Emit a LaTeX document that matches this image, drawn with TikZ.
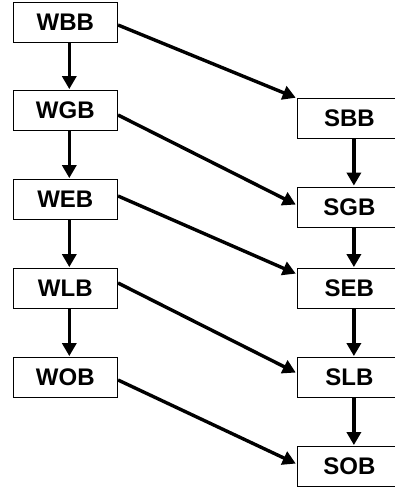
\documentclass[tikz,border=0pt]{standalone}
\usepackage{fontspec}
\setmainfont{Liberation Sans}
\usetikzlibrary{calc}
\usetikzlibrary{arrows.meta}

\tikzset{
    kotak/.style={draw, line width=0.8pt, minimum width=104.7pt, minimum height=40pt,
        inner sep=0pt, font=\fontsize{24}{27}\selectfont\bfseries},
    panah/.style={line width=3.4pt, -{Triangle[length=13pt,width=14pt]}, shorten >=1pt}
}

\begin{document}
\begin{tikzpicture}[x=1pt,y=-1pt]
    \useasboundingbox (0,0) rectangle (395,488);
    \clip (0,0) rectangle (395,488);
    % kotak kolom kiri
    \node[kotak] (WBB) at (65.3,22)    {WBB};
    \node[kotak] (WGB) at (65.3,110.5) {WGB};
    \node[kotak] (WEB) at (65.3,199.5) {WEB};
    \node[kotak] (WLB) at (65.3,288.5) {WLB};
    \node[kotak] (WOB) at (65.3,377.5) {WOB};
    % kotak kolom kanan
    \node[kotak] (SBB) at (349.4,118.5) {SBB};
    \node[kotak] (SGB) at (349.4,207)   {SGB};
    \node[kotak] (SEB) at (349.4,288.5) {SEB};
    \node[kotak] (SLB) at (349.4,377.5) {SLB};
    \node[kotak] (SOB) at (349.4,466.5) {SOB};

    % panah turun
    \draw[panah] ([xshift=4pt]WBB.south) -- ([xshift=4pt]WGB.north);
    \draw[panah] ([xshift=4pt]WGB.south) -- ([xshift=4pt]WEB.north);
    \draw[panah] ([xshift=4pt]WEB.south) -- ([xshift=4pt]WLB.north);
    \draw[panah] ([xshift=4pt]WLB.south) -- ([xshift=4pt]WOB.north);
    \draw[panah] ([xshift=4.5pt]SBB.south) -- ([xshift=4.5pt]SGB.north);
    \draw[panah] ([xshift=4.5pt]SGB.south) -- ([xshift=4.5pt]SEB.north);
    \draw[panah] ([xshift=4.5pt]SEB.south) -- ([xshift=4.5pt]SLB.north);
    \draw[panah] ([xshift=4.5pt]SLB.south) -- ([xshift=4.5pt]SOB.north);

    % panah miring
    \draw[panah] ([yshift=-3pt]WBB.east) -- (SBB.north west);
    \draw[panah] ([yshift=-4.5pt]WGB.east) -- ([yshift=2pt]SGB.west);
    \draw[panah] ([yshift=3.5pt]WEB.east) -- ([yshift=14.5pt]SEB.west);
    \draw[panah] ([yshift=5.5pt]WLB.east) -- ([yshift=4.5pt]SLB.west);
    \draw[panah] ([yshift=-2.5pt]WOB.east) -- ([yshift=2.5pt]SOB.west);
\end{tikzpicture}
\end{document}
